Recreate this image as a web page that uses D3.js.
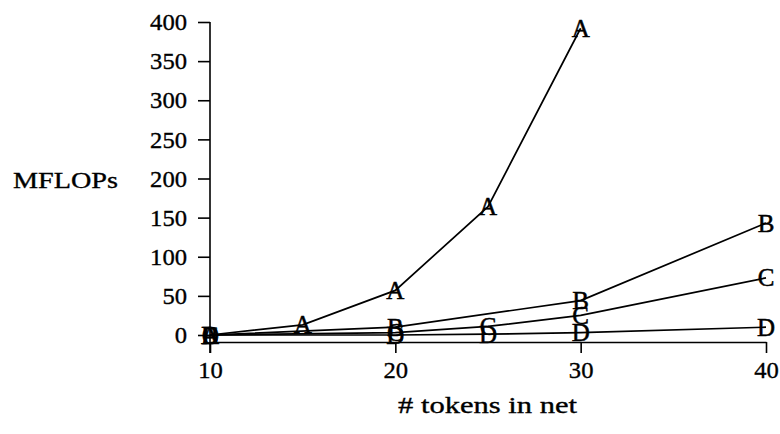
<!DOCTYPE html>
<html>
<head>
<meta charset="utf-8">
<script src="https://cdn.jsdelivr.net/npm/d3@7"></script>
<style>
  body { margin: 0; background: white; }
  svg { display: block; }
  text { font-family: "Liberation Serif", serif; fill: black; }
</style>
</head>
<body>
<svg id="mainSvg" width="780" height="434"></svg>
<script>
// values
var yTicks = [0, 50, 100, 150, 200, 250, 300, 350, 400];
var xTicks = [10, 20, 30, 40];

var seriesA = [[10, 0], [15, 13], [20, 57], [25, 164], [30, 392]];
var seriesB = [[10, 0], [20, 10], [30, 44], [40, 143]];
var seriesC = [[10, 0], [20, 3], [25, 11], [30, 25], [40, 73]];
var seriesD = [[10, 0], [20, 0], [25, 1], [30, 3], [40, 10]];
var letters = ["A", "B", "C", "D"];

var svg = d3.select("#mainSvg");

var x = d3.scaleLinear().domain([10, 40]).range([210, 766]);
var y = d3.scaleLinear().domain([0, 400]).range([335, 22]);
var xAxisY = 342;

// y axis (ticks only, vertical line drawn below so it runs down past the x axis)
var yAxis = svg.append("g")
  .attr("transform", "translate(" + x(10) + ",0)")
  .call(d3.axisLeft(y).tickValues(yTicks).tickSize(12).tickPadding(11).tickSizeOuter(0));
yAxis.select(".domain").remove();

svg.append("line")
  .attr("x1", x(10)).attr("x2", x(10))
  .attr("y1", y(400)).attr("y2", xAxisY + 11)
  .attr("stroke", "black").attr("stroke-width", 1.6);

var xAxis = svg.append("g")
  .attr("transform", "translate(0," + xAxisY + ")")
  .call(d3.axisBottom(x).tickValues(xTicks).tickFormat(d3.format("d")).tickSize(11).tickPadding(8).tickSizeOuter(0));

yAxis.attr("font-family", "Liberation Serif").attr("font-size", 24);
xAxis.attr("font-family", "Liberation Serif").attr("font-size", 24);
svg.selectAll(".tick line").attr("stroke", "black").attr("stroke-width", 1.6);
xAxis.select(".domain").attr("stroke", "black").attr("stroke-width", 1.6);
svg.selectAll(".tick text")
  .attr("font-family", "Liberation Serif")
  .attr("font-size", 24)
  .attr("stroke", "black")
  .attr("stroke-width", 0.35)
  .attr("textLength", function(d){ return String(d).length * 12.3; })
  .attr("lengthAdjust", "spacingAndGlyphs");

// axis titles
svg.append("text")
  .attr("x", 13).attr("y", 188)
  .attr("textLength", 105).attr("lengthAdjust", "spacingAndGlyphs")
  .attr("stroke", "black").attr("stroke-width", 0.35)
  .style("font-size", "24px")
  .text("MFLOPs");

svg.append("text")
  .attr("x", 398).attr("y", 413)
  .attr("textLength", 179).attr("lengthAdjust", "spacingAndGlyphs")
  .attr("stroke", "black").attr("stroke-width", 0.35)
  .style("font-size", "24px")
  .text("# tokens in net");

// series
var line = d3.line()
  .x(function(d){ return x(d[0]); })
  .y(function(d){ return y(d[1]); });

var allSeries = [seriesA, seriesB, seriesC, seriesD];
for (var i = 0; i < allSeries.length; i++) {
  svg.append("path")
    .datum(allSeries[i])
    .attr("d", line)
    .attr("fill", "none")
    .attr("stroke", "black")
    .attr("stroke-width", 1.7);

  svg.selectAll(".lbl" + i)
    .data(allSeries[i])
    .enter().append("text")
      .attr("class", "lbl" + i)
      .attr("x", function(d){ return x(d[0]); })
      .attr("y", function(d){ return y(d[1]); })
      .attr("text-anchor", "middle")
      .attr("dominant-baseline", "central")
      .attr("stroke", "black")
      .attr("stroke-width", 0.5)
      .style("font-size", "25px")
      .text(letters[i]);
}
</script>
</body>
</html>
